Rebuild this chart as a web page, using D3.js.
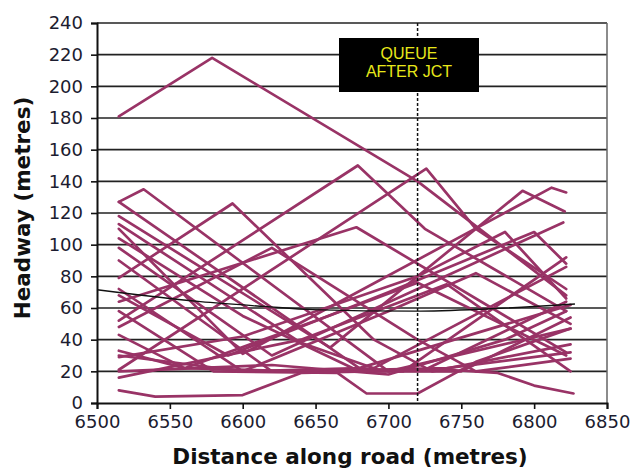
<!DOCTYPE html>
<html><head><meta charset="utf-8">
<script src="https://cdnjs.cloudflare.com/ajax/libs/d3/7.8.5/d3.min.js"></script>
<style>body{margin:0;background:#fff}svg{display:block}</style>
</head><body><svg id="c" width="631" height="470"></svg>
<script>
// ---- data ----
const xTicks = [6500,6550,6600,6650,6700,6750,6800,6850];
const yTicks = [0,20,40,60,80,100,120,140,160,180,200,220,240];
const queueLine = 6720;
const boxLabel = ["QUEUE","AFTER JCT"];
const trendX = [6500,6571,6615,6648,6718,6770,6828];
const trendY = [71.5,64,61,59,58,59.5,62.5];
// vehicle pair headway traces: [distance, headway]
const s01 = [[6515,181],[6579,218],[6720,140],[6822,68]];
const s02 = [[6515,127],[6532,135],[6700,20],[6750,20],[6825,54]];
const s03 = [[6515,127],[6680,22],[6710,20],[6822,92]];
const s04 = [[6515,118],[6660,35],[6792,134],[6821,121]];
const s05 = [[6515,110],[6600,31],[6812,136],[6822,133]];
const s06 = [[6515,98],[6620,30],[6820,114]];
const s07 = [[6515,90],[6620,20],[6700,20],[6825,47]];
const s08 = [[6515,79],[6593,126],[6690,40],[6730,20],[6825,37]];
const s09 = [[6515,72],[6600,20],[6680,22],[6825,62]];
const s10 = [[6515,64],[6678,111],[6822,32]];
const s11 = [[6515,58],[6580,20],[6665,19],[6685,6],[6720,6],[6760,26],[6825,47]];
const s12 = [[6515,52],[6679,150],[6725,110],[6822,58]];
const s13 = [[6515,48],[6620,98],[6720,40],[6760,20],[6825,28]];
const s14 = [[6515,33],[6560,22],[6640,20],[6740,22],[6825,32]];
const s15 = [[6515,29],[6600,42],[6720,80],[6780,108],[6822,66]];
const s16 = [[6515,21],[6726,148],[6760,110],[6822,72]];
const s17 = [[6515,16],[6640,40],[6740,75],[6825,20]];
const s18 = [[6515,8],[6540,4],[6600,5],[6640,19],[6740,21],[6775,19],[6800,11],[6827,6]];
const s19 = [[6515,20],[6620,24],[6700,18],[6780,40],[6822,58]];
const s20 = [[6515,104],[6600,55],[6680,20],[6725,21],[6822,64]];
const s21 = [[6515,68],[6590,30],[6700,70],[6800,108],[6822,88]];
const s22 = [[6515,30],[6600,20],[6700,58],[6760,82],[6825,50]];
const s23 = [[6515,43],[6560,22],[6650,52],[6720,76],[6822,30]];
const s24 = [[6515,113],[6640,38],[6690,22],[6822,86]];
const series = [s01,s02,s03,s04,s05,s06,s07,s08,s09,s10,s11,s12,s13,s14,s15,s16,s17,s18,s19,s20,s21,s22,s23,s24];

// ---- layout ----
const L=97,R=607,T=23,B=403;
const svg=d3.select("#c");
const x=d3.scaleLinear().domain([6500,6850]).range([L,R]);
const y=d3.scaleLinear().domain([0,240]).range([B,T]);
const font="DejaVu Sans, Verdana, sans-serif";

// grid
svg.append("g").selectAll("line").data(yTicks.filter(d=>d>0)).join("line")
  .attr("x1",L).attr("x2",R).attr("y1",d=>y(d)).attr("y2",d=>y(d))
  .attr("stroke","#222").attr("stroke-width",1.6);
svg.append("line").attr("x1",R).attr("x2",R).attr("y1",T).attr("y2",B)
  .attr("stroke","#666").attr("stroke-width",1.5);

// axes
const yAxis=d3.axisLeft(y).tickValues(yTicks).tickSize(6).tickPadding(8);
const gy=svg.append("g").attr("transform",`translate(${L},0)`).call(yAxis);
const xAxis=d3.axisBottom(x).tickValues(xTicks).tickSize(6).tickPadding(6).tickFormat(d3.format("d"));
const gx=svg.append("g").attr("transform",`translate(0,${B})`).call(xAxis);
[gx,gy].forEach(g=>{
  g.select(".domain").attr("stroke","#111").attr("stroke-width",2);
  g.selectAll(".tick line").attr("stroke","#111").attr("stroke-width",1.6);
  g.selectAll(".tick text").attr("font-family",font).attr("font-size",18).attr("fill","#1c1c30");
});

// series
const line=d3.line().x(d=>x(d[0])).y(d=>y(d[1]));
svg.append("g").selectAll("path").data(series).join("path")
  .attr("d",line).attr("fill","none").attr("stroke","#993366")
  .attr("stroke-width",2.7).attr("stroke-linejoin","round").attr("stroke-linecap","round");

// trend line
const trend=trendX.map((d,i)=>[d,trendY[i]]);
svg.append("path").attr("d",d3.line().x(d=>x(d[0])).y(d=>y(d[1])).curve(d3.curveMonotoneX)(trend))
  .attr("fill","none").attr("stroke","#111").attr("stroke-width",1.4);

// queue line
svg.append("line").attr("x1",x(queueLine)).attr("x2",x(queueLine)).attr("y1",T).attr("y2",B)
  .attr("stroke","#111").attr("stroke-width",1.5).attr("stroke-dasharray","3,2");

// label box
svg.append("rect").attr("x",339).attr("y",38).attr("width",140).attr("height",54).attr("fill","#000");
svg.append("g").selectAll("text").data(boxLabel).join("text")
  .attr("x",409).attr("y",(d,i)=>59+i*18).attr("text-anchor","middle")
  .attr("font-family","Liberation Sans, Arial, sans-serif").attr("font-size",16)
  .attr("fill","#e8e81a").text(d=>d);

// titles
svg.append("text").attr("x",350).attr("y",464).attr("text-anchor","middle")
  .attr("font-family",font).attr("font-weight","bold").attr("font-size",21.5).attr("fill","#111")
  .text("Distance along road (metres)");
svg.append("text").attr("transform","translate(30,208) rotate(-90)").attr("text-anchor","middle")
  .attr("font-family",font).attr("font-weight","bold").attr("font-size",21.5).attr("fill","#111")
  .text("Headway (metres)");
</script></body></html>
